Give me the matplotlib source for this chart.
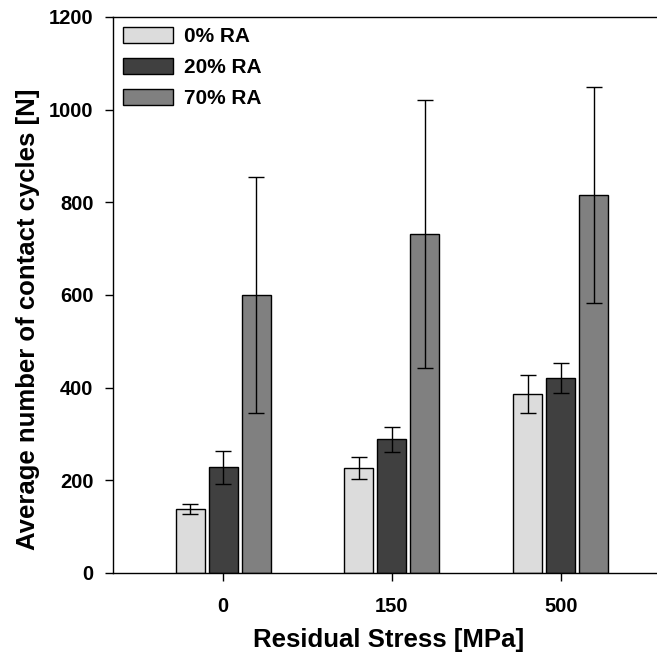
import matplotlib
matplotlib.use("Agg")
import matplotlib.pyplot as plt
import numpy as np

categories = ["0", "150", "500"]
series_names = ["0% RA", "20% RA", "70% RA"]
ra0 = [138, 226, 386]
ra0_err = [11, 24, 41]
ra20 = [228, 289, 421]
ra20_err = [36, 27, 33]
ra70 = [600, 731, 816]
ra70_err = [255, 289, 233]

colors = ["#dcdcdc", "#404040", "#808080"]

plt.rcParams['font.family'] = ['Liberation Sans', 'DejaVu Sans']
plt.rcParams['font.weight'] = 'bold'

fig = plt.figure(figsize=(6.57, 6.54), dpi=100)
ax = fig.add_axes([113/657, 81/654, (657-113)/657 + 0.01, (573-17)/654])

x = np.arange(len(categories))
step = 0.196
width = 0.172
vals = [ra0, ra20, ra70]
errs = [ra0_err, ra20_err, ra70_err]
for i, (v, e, c, n) in enumerate(zip(vals, errs, colors, series_names)):
    ax.bar(x + (i - 1) * step, v, width, color=c, edgecolor='black', linewidth=1.0,
           label=n, zorder=2)
    ax.errorbar(x + (i - 1) * step, v, yerr=e, fmt='none', ecolor='black',
                elinewidth=1.0, capsize=6, capthick=1.0, zorder=3)

ax.set_ylim(0, 1200)
ax.set_xlim(-0.653, 2.61)
ax.set_yticks(np.arange(0, 1201, 200))
ax.set_xticks(x)
ax.set_xticklabels(categories)
ax.tick_params(direction='out', length=6, width=1, labelsize=14.5)
ax.tick_params(axis='y', pad=8)
ax.tick_params(axis='x', pad=11.5)
for lbl in ax.get_xticklabels() + ax.get_yticklabels():
    lbl.set_fontweight('bold')
ax.spines['right'].set_visible(False)
for s in ['left', 'bottom', 'top']:
    ax.spines[s].set_linewidth(1.0)

ax.set_ylabel("Average number of contact cycles [N]", fontsize=18.5, fontweight='bold')
ax.set_xlabel("Residual Stress [MPa]", fontsize=18.5, fontweight='bold')
ax.yaxis.set_label_coords(-0.133, 0.457)
ax.xaxis.set_label_coords(0.5, -0.099)

leg = ax.legend(loc='upper left', frameon=False, fontsize=15, handlelength=2.4,
                handleheight=0.77, handletextpad=0.5, labelspacing=0.57,
                borderaxespad=0.1, bbox_to_anchor=(0.0, 1.0))
for t in leg.get_texts():
    t.set_fontweight('bold')

fig.savefig("out.png", dpi=100)
